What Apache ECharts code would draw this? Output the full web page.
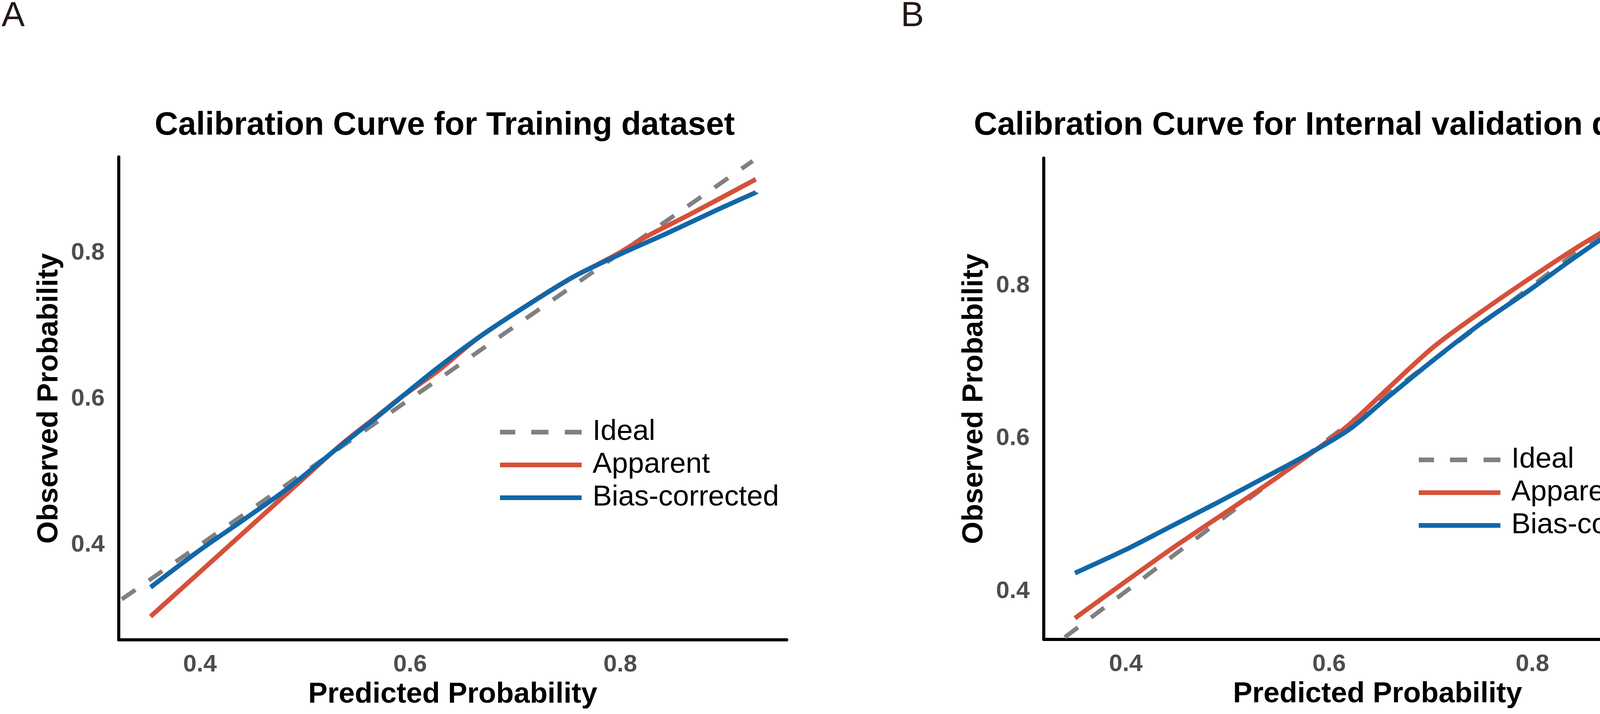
<!DOCTYPE html>
<html>
<head>
<meta charset="utf-8">
<script src="https://cdn.jsdelivr.net/npm/echarts@6/dist/echarts.min.js"></script>
<style>
  html, body { margin: 0; padding: 0; background: #fff; }
  #main { width: 4385px; height: 1829px; }
</style>
</head>
<body>
<div id="main"></div>
<script>
// 数据：校准曲线
var tickValues = [0.4, 0.6, 0.8];

// A: Training dataset
var trainIdealX = [0.30, 0.926];
var trainAppX = [0.353, 0.40, 0.45, 0.50, 0.534, 0.57, 0.591, 0.627, 0.664, 0.71, 0.755, 0.778, 0.80, 0.823, 0.869, 0.929];
var trainAppY = [0.302, 0.363, 0.428, 0.493, 0.537, 0.578, 0.602, 0.639, 0.683, 0.727, 0.767, 0.784, 0.801, 0.821, 0.855, 0.901];
var trainBiasX = [0.353, 0.399, 0.442, 0.485, 0.527, 0.570, 0.623, 0.664, 0.710, 0.755, 0.801, 0.846, 0.892, 0.929];
var trainBiasY = [0.342, 0.392, 0.435, 0.479, 0.528, 0.577, 0.639, 0.683, 0.727, 0.767, 0.799, 0.828, 0.859, 0.883];

// B: Internal validation dataset
var validIdealX = [0.34, 0.958];
var validAppX = [0.350, 0.441, 0.509, 0.553, 0.616, 0.656, 0.703, 0.750, 0.797, 0.844, 0.891, 0.946];
var validAppY = [0.365, 0.452, 0.513, 0.553, 0.614, 0.663, 0.720, 0.766, 0.809, 0.850, 0.888, 0.938];
var validBiasX = [0.350, 0.399, 0.443, 0.487, 0.531, 0.576, 0.620, 0.656, 0.703, 0.750, 0.797, 0.844, 0.891, 0.946];
var validBiasY = [0.424, 0.454, 0.484, 0.514, 0.545, 0.577, 0.612, 0.652, 0.703, 0.751, 0.794, 0.839, 0.881, 0.922];

var legendNames = ['Ideal', 'Apparent', 'Bias-corrected'];

var FONT = "'Liberation Sans', Arial, sans-serif";
var colIdeal = '#808080', colApp = '#D6503A', colBias = '#1167A8';
// 图例里的虚线图标
var dashIcon = 'path://M0,0h39v12h-39z M80,0h44v12h-44z M166,0h43v12h-43z';

function pairs(xs, ys) {
	return xs.map(function (x, i) { return [x, ys ? ys[i] : x]; });
}

function xAxisOf(idx, min, max) {
	return {
		gridIndex: idx, type: 'value', min: min, max: max,
		axisLine: { onZero: false, lineStyle: { color: '#000', width: 8 } },
		axisTick: { show: false },
		splitLine: { show: false },
		axisLabel: {
			customValues: tickValues, margin: 33,
			formatter: function (v) { return v.toFixed(1); },
			fontFamily: FONT, fontSize: 62, fontWeight: 'bold', color: '#4d4d4d'
		},
		name: 'Predicted Probability', nameLocation: 'middle', nameGap: 104,
		nameTextStyle: { fontFamily: FONT, fontSize: 74, fontWeight: 'bold', color: '#000' }
	};
}

function yAxisOf(idx, min, max) {
	return {
		gridIndex: idx, type: 'value', min: min, max: max,
		axisLine: { onZero: false, lineStyle: { color: '#000', width: 8 } },
		axisTick: { show: false },
		splitLine: { show: false },
		axisLabel: {
			customValues: tickValues, margin: 36,
			formatter: function (v) { return v.toFixed(1); },
			fontFamily: FONT, fontSize: 62, fontWeight: 'bold', color: '#4d4d4d'
		},
		name: 'Observed Probability', nameLocation: 'middle', nameGap: 140,
		nameTextStyle: { fontFamily: FONT, fontSize: 74, fontWeight: 'bold', color: '#000' }
	};
}

function curve(name, idx, data, color, dashed) {
	return {
		name: name, type: 'line', xAxisIndex: idx, yAxisIndex: idx,
		data: data, symbol: 'none', smooth: dashed ? false : 0.3,
		color: color, clip: true,
		lineStyle: { color: color, width: dashed ? 11 : 12, type: dashed ? [42, 42] : 'solid', cap: 'butt' },
		emphasis: { disabled: true }
	};
}

function legendOf(left, top) {
	return {
		orient: 'vertical', left: left, top: top, padding: 0,
		itemWidth: 209, itemHeight: 12, itemGap: 10,
		itemStyle: { borderWidth: 0 },
		data: [
			{ name: legendNames[0], icon: dashIcon },
			{ name: legendNames[1], icon: 'rect' },
			{ name: legendNames[2], icon: 'rect' }
		],
		textStyle: { fontFamily: FONT, fontSize: 74, color: '#000', lineHeight: 74, padding: [0, 0, 0, 23] }
	};
}

var myChart = echarts.init(document.getElementById('main'));

var option = {
	backgroundColor: '#fff',
	animation: false,
	title: [
		{ text: 'A', left: 4, top: -2, padding: 0, textStyle: { fontFamily: FONT, fontSize: 89, fontWeight: 'normal', color: '#231815' } },
		{ text: 'Calibration Curve for Training dataset', left: 396, top: 281, padding: 0,
			textStyle: { fontFamily: FONT, fontSize: 83, fontWeight: 'bold', color: '#000' } },
		{ text: 'B', left: 2306, top: -2, padding: 0, textStyle: { fontFamily: FONT, fontSize: 89, fontWeight: 'normal', color: '#231815' } },
		{ text: 'Calibration Curve for Internal validation dataset', left: 2493, top: 281, padding: 0,
			textStyle: { fontFamily: FONT, fontSize: 83, fontWeight: 'bold', color: '#000' } }
	],
	grid: [
		{ left: 304, top: 402, width: 1710, height: 1237 },
		{ left: 2672, top: 405, width: 1709, height: 1233 }
	],
	xAxis: [xAxisOf(0, 0.3227, 0.9584), xAxisOf(1, 0.3193, 0.976)],
	yAxis: [yAxisOf(0, 0.270, 0.9316), yAxisOf(1, 0.3372, 0.9667)],
	legend: [legendOf(1280, 1070), legendOf(3632, 1141)],
	series: [
		curve('Ideal', 0, pairs(trainIdealX), colIdeal, true),
		curve('Apparent', 0, pairs(trainAppX, trainAppY), colApp, false),
		curve('Bias-corrected', 0, pairs(trainBiasX, trainBiasY), colBias, false),
		curve('Ideal', 1, pairs(validIdealX), colIdeal, true),
		curve('Apparent', 1, pairs(validAppX, validAppY), colApp, false),
		curve('Bias-corrected', 1, pairs(validBiasX, validBiasY), colBias, false)
	]
};

myChart.setOption(option);
</script>
</body>
</html>
